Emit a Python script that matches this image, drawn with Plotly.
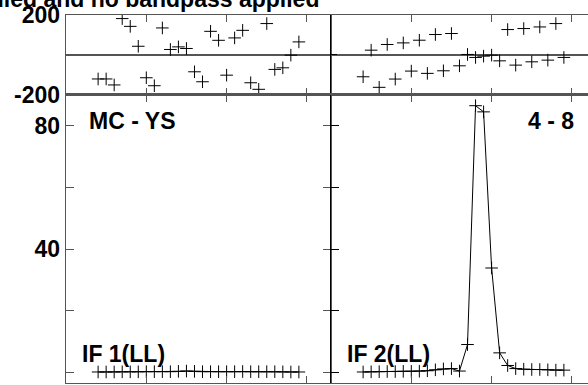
import plotly.graph_objects as go

# ---- data ----
channels = list(range(1, 27))
if1_phase = [-121, -121, -151, 182, 143, 43, -115, -155, 135, 27, 40, 32, -85,
             -135, 118, 73, -102, 85, 123, -140, -173, 157, -73, -65, -1.5, 65]
if2_phase = [-110, 23.5, -163, 52, -121.5, 60, -81.5, 73.5, -93, 102, -80, 107, -55,
             2, -13, -6.5, -1.5, -30, 127, -51.5, 132, -35, 140, -26.5, 157, -13]
if1_amp = [0.2, 0.2, 0.2, 0.25, 0.25, 0.25, 0.3, 0.3, 0.3, 0.3, 0.4, 0.5, 0.4,
           0.3, 0.3, 0.3, 0.3, 0.3, 0.35, 0.3, 0.3, 0.3, 0.3, 0.25, 0.2, 0.2]
if2_amp = [0.2, 0.25, 0.3, 0.35, 0.35, 0.4, 0.4, 0.45, 0.6, 0.9, 1.2, 1.3, 0.5,
           9.1, 86.5, 84.5, 33.9, 6.4, 2.3, 1.3, 1.1, 1.0, 1.0, 0.9, 0.8, 0.8]

x_ticks = [7, 17, 27]
phase_ticks = [-200, 0, 200]
phase_tick_labels = ["-200", "", "200"]
amp_ticks = [0, 20, 40, 60, 80]
amp_tick_labels = ["0", "", "40", "", "80"]

title_text = "Calibration applied and no bandpass applied"
baseline_label = "MC - YS"
time_label = "4 - 8"
if_labels = ["IF 1(LL)", "IF 2(LL)"]

# ---- figure ----
W, H = 588, 385
ml, mr, mt, mb = 66, 0, 15, 2
pw, ph = W - ml - mr, H - mt - mb
d = 265 / pw                      # split between left/right columns
pd_ = (H - mb - 94.7) / ph        # split between amp/phase rows
rw = pw - 265                     # visible width of right column

FONT = "Liberation Sans, Arial, Helvetica, sans-serif"
GREY = "#555555"

fig = go.Figure()

mk = dict(symbol="cross-thin", size=9, line=dict(width=1, color="black"), color="black")

fig.add_trace(go.Scatter(x=channels, y=if1_phase, mode="markers", marker=mk,
                         xaxis="x", yaxis="y", showlegend=False))
fig.add_trace(go.Scatter(x=channels, y=if2_phase, mode="markers", marker=mk,
                         xaxis="x2", yaxis="y2", showlegend=False))
fig.add_trace(go.Scatter(x=channels, y=if1_amp, mode="lines+markers", marker=mk,
                         line=dict(color="black", width=1),
                         xaxis="x3", yaxis="y3", showlegend=False))
fig.add_trace(go.Scatter(x=channels, y=if2_amp, mode="lines+markers", marker=mk,
                         line=dict(color="black", width=1),
                         xaxis="x4", yaxis="y4", showlegend=False))

xrange_left = [-3, 30]
xrange_right = [-3, -3 + rw / (265 / 33)]

common_x = dict(tickvals=x_ticks, ticks="inside", ticklen=7, tickcolor=GREY,
                showticklabels=False, showgrid=False, zeroline=False, automargin=False,
                showline=True, linecolor=GREY, linewidth=1.3, mirror="ticks")
tickfont = dict(family=FONT, size=23, color="black", weight="bold")

fig.update_layout(
    width=W, height=H,
    margin=dict(l=ml, r=mr, t=mt, b=mb, pad=0, autoexpand=False),
    paper_bgcolor="white", plot_bgcolor="white",
    hovermode=False,
    xaxis=dict(domain=[0, d], range=xrange_left, anchor="y", **common_x),
    xaxis2=dict(domain=[d, 1], range=xrange_right, anchor="y2", **common_x),
    xaxis3=dict(domain=[0, d], range=xrange_left, anchor="y3", **common_x),
    xaxis4=dict(domain=[d, 1], range=xrange_right, anchor="y4", **common_x),
    yaxis=dict(domain=[pd_, 1], range=[-200, 200], anchor="x", automargin=False,
               tickvals=phase_ticks, ticktext=phase_tick_labels,
               ticks="inside", ticklen=6, tickcolor=GREY, tickfont=tickfont,
               showgrid=False, zeroline=True, zerolinecolor=GREY, zerolinewidth=1.3,
               showline=True, linecolor=GREY, linewidth=1.3, mirror="ticks"),
    yaxis2=dict(domain=[pd_, 1], range=[-200, 200], anchor="x2", automargin=False,
                tickvals=phase_ticks, ticks="inside", ticklen=6, tickcolor="black",
                showticklabels=False, showgrid=False,
                zeroline=True, zerolinecolor=GREY, zerolinewidth=1.3,
                showline=True, linecolor="black", linewidth=1, mirror=False),
    yaxis3=dict(domain=[0, pd_], range=[-3.37, 90.06], anchor="x3", automargin=False,
                tickvals=amp_ticks, ticktext=amp_tick_labels,
                ticks="inside", ticklen=8, tickcolor=GREY, tickfont=tickfont,
                showgrid=False, zeroline=False,
                showline=True, linecolor=GREY, linewidth=1.3, mirror="ticks"),
    yaxis4=dict(domain=[0, pd_], range=[-3.37, 90.06], anchor="x4", automargin=False,
                tickvals=amp_ticks, ticks="inside", ticklen=8, tickcolor="black",
                showticklabels=False, showgrid=False, zeroline=False,
                showline=True, linecolor="black", linewidth=1, mirror=False),
)

lab_font = dict(family=FONT, size=23, color="black", weight="bold")
ann = [
    dict(text=title_text, xref="paper", yref="paper", x=(320 - ml) / pw,
         y=1 + (mt + 1.5) / ph, xanchor="right", yanchor="middle"),
    dict(text=baseline_label, xref="x3 domain", yref="y3 domain", x=(88 - 66) / 265,
         y=(382.7 - 120.5) / 288, xanchor="left", yanchor="middle"),
    dict(text=time_label, xref="x4 domain", yref="y4 domain", x=(575 - 331) / rw,
         y=(382.7 - 120.5) / 288, xanchor="right", yanchor="middle"),
    dict(text=if_labels[0], xref="x3 domain", yref="y3 domain", x=(80.5 - 66) / 265,
         y=(382.7 - 354) / 288, xanchor="left", yanchor="middle"),
    dict(text=if_labels[1], xref="x4 domain", yref="y4 domain", x=(345.5 - 331) / rw,
         y=(382.7 - 354) / 288, xanchor="left", yanchor="middle"),
]
for a in ann:
    a.update(showarrow=False, font=lab_font, borderpad=0)
fig.update_layout(annotations=ann)

fig.write_html(
    "out.html",
    config={"displayModeBar": False, "staticPlot": True},
    post_script="document.body.style.margin='0';document.body.style.overflow='hidden';",
)
